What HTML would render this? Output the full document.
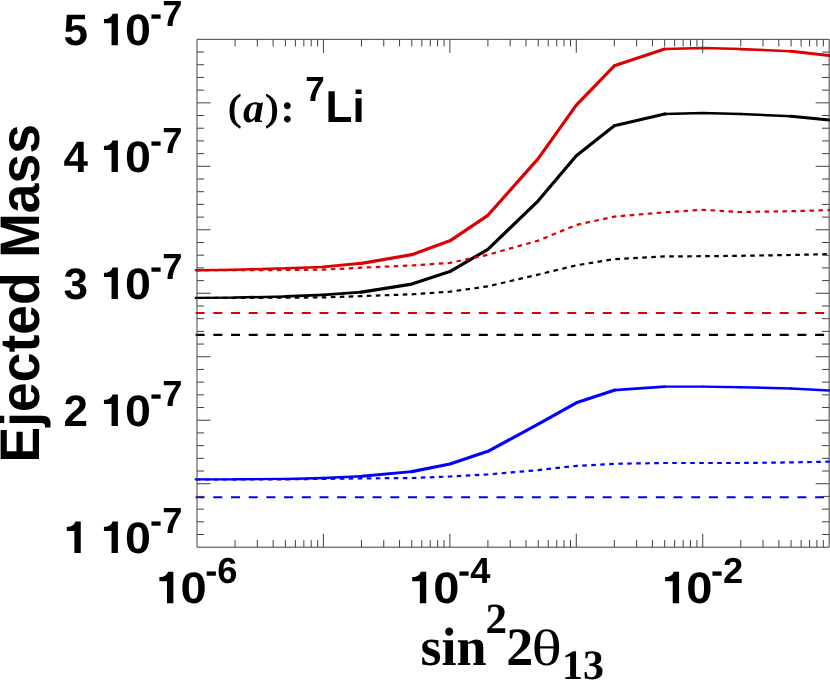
<!DOCTYPE html>
<html><head><meta charset="utf-8"><title>chart</title>
<style>html,body{margin:0;padding:0;background:#fff;overflow:hidden}svg{display:block;position:absolute;left:0;top:0}
svg{will-change:transform}
text{fill:#000;text-rendering:geometricPrecision}
.sb{font-family:"Liberation Sans",sans-serif;font-weight:bold}
.rb{font-family:"Liberation Serif",serif;font-weight:bold}
.rbi{font-family:"Liberation Serif",serif;font-weight:bold;font-style:italic}
.rp{font-family:"Liberation Serif",serif;font-weight:normal;stroke:#000;stroke-width:1.3px;stroke-linejoin:round}
.rr{font-family:"Liberation Serif",serif;font-weight:normal}
</style>
</head><body>
<svg width="830" height="680" viewBox="0 0 830 680">
<rect width="830" height="680" fill="#fff"/>
<g fill="none" stroke="#dc0000" stroke-linecap="round">
<path d="M195.8 270.2L197.0 270.2" stroke-width="2.3"/>
<path d="M197.0 270.2L235.1 269.7" stroke-width="2.4"/>
<path d="M235.1 269.7L285.4 268.2 M285.4 268.2L323.4 266.9 M664.7 49.1L702.7 48.0 M702.7 48.0L740.8 49.1" stroke-width="2.5"/>
<path d="M740.8 49.1L791.1 51.2" stroke-width="2.6"/>
<path d="M323.4 266.9L361.5 263.3" stroke-width="2.9"/>
<path d="M791.1 51.2L829.1 55.6 M829.1 55.6L831.0 55.8" stroke-width="3.0"/>
<path d="M361.5 263.3L411.8 254.7 M411.8 254.7L449.9 240.8 M449.9 240.8L487.9 215.3 M487.9 215.3L538.2 158.6 M538.2 158.6L576.3 105.1 M576.3 105.1L614.3 65.8 M614.3 65.8L664.7 49.1" stroke-width="3.2"/>
</g>
<g fill="none" stroke="#000000" stroke-linecap="round">
<path d="M195.8 297.9L197.0 297.9" stroke-width="2.3"/>
<path d="M197.0 297.9L235.1 297.6" stroke-width="2.4"/>
<path d="M235.1 297.6L285.4 296.4 M664.7 114.0L702.7 113.1 M702.7 113.1L740.8 114.0" stroke-width="2.5"/>
<path d="M285.4 296.4L323.4 294.9 M740.8 114.0L791.1 116.2" stroke-width="2.6"/>
<path d="M323.4 294.9L361.5 292.2" stroke-width="2.8"/>
<path d="M791.1 116.2L829.1 120.1 M829.1 120.1L831.0 120.3" stroke-width="3.0"/>
<path d="M361.5 292.2L411.8 284.1 M411.8 284.1L449.9 271.6 M449.9 271.6L487.9 249.3 M487.9 249.3L538.2 200.8 M538.2 200.8L576.3 155.8 M576.3 155.8L614.3 125.8 M614.3 125.8L664.7 114.0" stroke-width="3.2"/>
</g>
<g fill="none" stroke="#0000ff" stroke-linecap="round">
<path d="M195.8 479.4L197.0 479.4 M197.0 479.4L235.1 479.3 M664.7 386.6L702.7 386.6" stroke-width="2.3"/>
<path d="M235.1 479.3L285.4 478.9 M702.7 386.6L740.8 387.2" stroke-width="2.4"/>
<path d="M285.4 478.9L323.4 478.0 M740.8 387.2L791.1 388.5" stroke-width="2.5"/>
<path d="M323.4 478.0L361.5 476.3 M791.1 388.5L829.1 390.5 M829.1 390.5L831.0 390.6" stroke-width="2.6"/>
<path d="M614.3 390.2L664.7 386.6" stroke-width="2.8"/>
<path d="M361.5 476.3L411.8 471.6" stroke-width="2.9"/>
<path d="M411.8 471.6L449.9 464.0 M449.9 464.0L487.9 451.3 M487.9 451.3L538.2 424.2 M538.2 424.2L576.3 402.8 M576.3 402.8L614.3 390.2" stroke-width="3.2"/>
</g>
<g fill="none" stroke-width="2.2" stroke-linejoin="round">
<path d="M195.8 270.3 L197.0 270.3 L235.1 270.2 L285.4 270.0 L323.4 269.6 L361.5 267.7 L411.8 265.5 L449.9 262.9 L487.9 254.8 L538.2 240.6 L576.3 224.9 L614.3 216.6 L664.7 212.3 L702.7 209.8 L740.8 212.0 L791.1 211.2 L829.1 210.1 L831 210.0" stroke="#dc0000" stroke-dasharray="4.6 4.4"/>
<path d="M195.8 298.0 L197.0 298.0 L235.1 297.9 L285.4 297.7 L323.4 297.4 L361.5 296.1 L411.8 294.3 L449.9 291.7 L487.9 286.3 L538.2 274.6 L576.3 265.3 L614.3 259.1 L664.7 256.4 L702.7 256.2 L740.8 255.8 L791.1 255.0 L829.1 254.1 L831 254.1" stroke="#000000" stroke-dasharray="4.6 4.4"/>
<path d="M195.8 479.5 L197.0 479.5 L235.1 479.5 L285.4 479.3 L323.4 478.9 L361.5 478.4 L411.8 478.0 L449.9 476.5 L487.9 474.4 L538.2 470.1 L576.3 465.9 L614.3 463.8 L664.7 463.0 L702.7 463.0 L740.8 463.0 L791.1 462.4 L829.1 461.7 L831 461.7" stroke="#0000ff" stroke-dasharray="4.6 4.4"/>
</g>
<g fill="none" stroke-width="2.2">
<path d="M195.6 313.00 H831" stroke="#dc0000" stroke-dasharray="9.0 8.7"/>
<path d="M195.6 334.80 H831" stroke="#000000" stroke-dasharray="9.0 8.7"/>
<path d="M195.6 497.25 H831" stroke="#0000ff" stroke-dasharray="9.0 8.7"/>
</g>
<g fill="none" stroke="#404040" stroke-width="1">
<path d="M197.00 39.35 H829.15 V547.20 H197.00 Z"/>
<path d="M235.06 547.20 v-7.1 M235.06 39.35 v7.1 M257.32 547.20 v-7.1 M257.32 39.35 v7.1 M273.12 547.20 v-7.1 M273.12 39.35 v7.1 M285.37 547.20 v-7.1 M285.37 39.35 v7.1 M295.38 547.20 v-7.1 M295.38 39.35 v7.1 M303.85 547.20 v-7.1 M303.85 39.35 v7.1 M311.18 547.20 v-7.1 M311.18 39.35 v7.1 M317.64 547.20 v-7.1 M317.64 39.35 v7.1 M323.43 547.20 v-13.5 M323.43 39.35 v13.5 M361.49 547.20 v-7.1 M361.49 39.35 v7.1 M383.75 547.20 v-7.1 M383.75 39.35 v7.1 M399.55 547.20 v-7.1 M399.55 39.35 v7.1 M411.80 547.20 v-7.1 M411.80 39.35 v7.1 M421.81 547.20 v-7.1 M421.81 39.35 v7.1 M430.28 547.20 v-7.1 M430.28 39.35 v7.1 M437.61 547.20 v-7.1 M437.61 39.35 v7.1 M444.07 547.20 v-7.1 M444.07 39.35 v7.1 M449.86 547.20 v-13.5 M449.86 39.35 v13.5 M487.92 547.20 v-7.1 M487.92 39.35 v7.1 M510.18 547.20 v-7.1 M510.18 39.35 v7.1 M525.98 547.20 v-7.1 M525.98 39.35 v7.1 M538.23 547.20 v-7.1 M538.23 39.35 v7.1 M548.24 547.20 v-7.1 M548.24 39.35 v7.1 M556.71 547.20 v-7.1 M556.71 39.35 v7.1 M564.04 547.20 v-7.1 M564.04 39.35 v7.1 M570.50 547.20 v-7.1 M570.50 39.35 v7.1 M576.29 547.20 v-13.5 M576.29 39.35 v13.5 M614.35 547.20 v-7.1 M614.35 39.35 v7.1 M636.61 547.20 v-7.1 M636.61 39.35 v7.1 M652.41 547.20 v-7.1 M652.41 39.35 v7.1 M664.66 547.20 v-7.1 M664.66 39.35 v7.1 M674.67 547.20 v-7.1 M674.67 39.35 v7.1 M683.14 547.20 v-7.1 M683.14 39.35 v7.1 M690.47 547.20 v-7.1 M690.47 39.35 v7.1 M696.93 547.20 v-7.1 M696.93 39.35 v7.1 M702.72 547.20 v-13.5 M702.72 39.35 v13.5 M740.78 547.20 v-7.1 M740.78 39.35 v7.1 M763.04 547.20 v-7.1 M763.04 39.35 v7.1 M778.84 547.20 v-7.1 M778.84 39.35 v7.1 M791.09 547.20 v-7.1 M791.09 39.35 v7.1 M801.10 547.20 v-7.1 M801.10 39.35 v7.1 M809.57 547.20 v-7.1 M809.57 39.35 v7.1 M816.90 547.20 v-7.1 M816.90 39.35 v7.1 M823.36 547.20 v-7.1 M823.36 39.35 v7.1 M197.00 534.50 h7.1 M829.15 534.50 h-7.1 M197.00 521.81 h7.1 M829.15 521.81 h-7.1 M197.00 509.11 h7.1 M829.15 509.11 h-7.1 M197.00 496.42 h7.1 M829.15 496.42 h-7.1 M197.00 483.72 h13.5 M829.15 483.72 h-13.5 M197.00 471.02 h7.1 M829.15 471.02 h-7.1 M197.00 458.33 h7.1 M829.15 458.33 h-7.1 M197.00 445.63 h7.1 M829.15 445.63 h-7.1 M197.00 432.93 h7.1 M829.15 432.93 h-7.1 M197.00 420.24 h13.5 M829.15 420.24 h-13.5 M197.00 407.54 h7.1 M829.15 407.54 h-7.1 M197.00 394.85 h7.1 M829.15 394.85 h-7.1 M197.00 382.15 h7.1 M829.15 382.15 h-7.1 M197.00 369.45 h7.1 M829.15 369.45 h-7.1 M197.00 356.76 h13.5 M829.15 356.76 h-13.5 M197.00 344.06 h7.1 M829.15 344.06 h-7.1 M197.00 331.36 h7.1 M829.15 331.36 h-7.1 M197.00 318.67 h7.1 M829.15 318.67 h-7.1 M197.00 305.97 h7.1 M829.15 305.97 h-7.1 M197.00 293.28 h13.5 M829.15 293.28 h-13.5 M197.00 280.58 h7.1 M829.15 280.58 h-7.1 M197.00 267.88 h7.1 M829.15 267.88 h-7.1 M197.00 255.19 h7.1 M829.15 255.19 h-7.1 M197.00 242.49 h7.1 M829.15 242.49 h-7.1 M197.00 229.79 h13.5 M829.15 229.79 h-13.5 M197.00 217.10 h7.1 M829.15 217.10 h-7.1 M197.00 204.40 h7.1 M829.15 204.40 h-7.1 M197.00 191.70 h7.1 M829.15 191.70 h-7.1 M197.00 179.01 h7.1 M829.15 179.01 h-7.1 M197.00 166.31 h13.5 M829.15 166.31 h-13.5 M197.00 153.62 h7.1 M829.15 153.62 h-7.1 M197.00 140.92 h7.1 M829.15 140.92 h-7.1 M197.00 128.22 h7.1 M829.15 128.22 h-7.1 M197.00 115.53 h7.1 M829.15 115.53 h-7.1 M197.00 102.83 h13.5 M829.15 102.83 h-13.5 M197.00 90.14 h7.1 M829.15 90.14 h-7.1 M197.00 77.44 h7.1 M829.15 77.44 h-7.1 M197.00 64.74 h7.1 M829.15 64.74 h-7.1 M197.00 52.05 h7.1 M829.15 52.05 h-7.1 "/>
</g>
<g>
<path id="yl1" d="M242 0V500H69V593C150 593 235 620 263 716H386V0Z" transform="translate(63.76 553.00) scale(0.0440 -0.0440)"/>
<path id="yo1" d="M242 0V500H69V593C150 593 235 620 263 716H386V0Z" transform="translate(100.91 553.00) scale(0.0440 -0.0440)"/>
<text id="yt1" class="sb" transform="translate(125.10 553.00) scale(1.060 1.000)" font-size="44">0</text>
<text id="ye1" class="sb" transform="translate(150.10 533.40)" font-size="36.3">-7</text>
<text id="yl2" class="sb" transform="translate(63.50 426.04)" font-size="44">2</text>
<path id="yo2" d="M242 0V500H69V593C150 593 235 620 263 716H386V0Z" transform="translate(100.91 426.04) scale(0.0440 -0.0440)"/>
<text id="yt2" class="sb" transform="translate(125.10 426.04) scale(1.060 1.000)" font-size="44">0</text>
<text id="ye2" class="sb" transform="translate(150.10 406.44)" font-size="36.3">-7</text>
<text id="yl3" class="sb" transform="translate(63.50 299.08)" font-size="44">3</text>
<path id="yo3" d="M242 0V500H69V593C150 593 235 620 263 716H386V0Z" transform="translate(100.91 299.08) scale(0.0440 -0.0440)"/>
<text id="yt3" class="sb" transform="translate(125.10 299.08) scale(1.060 1.000)" font-size="44">0</text>
<text id="ye3" class="sb" transform="translate(150.10 279.48)" font-size="36.3">-7</text>
<text id="yl4" class="sb" transform="translate(63.50 172.11)" font-size="44">4</text>
<path id="yo4" d="M242 0V500H69V593C150 593 235 620 263 716H386V0Z" transform="translate(100.91 172.11) scale(0.0440 -0.0440)"/>
<text id="yt4" class="sb" transform="translate(125.10 172.11) scale(1.060 1.000)" font-size="44">0</text>
<text id="ye4" class="sb" transform="translate(150.10 152.51)" font-size="36.3">-7</text>
<text id="yl5" class="sb" transform="translate(63.50 45.15)" font-size="44">5</text>
<path id="yo5" d="M242 0V500H69V593C150 593 235 620 263 716H386V0Z" transform="translate(100.91 45.15) scale(0.0440 -0.0440)"/>
<text id="yt5" class="sb" transform="translate(125.10 45.15) scale(1.060 1.000)" font-size="44">0</text>
<text id="ye5" class="sb" transform="translate(150.10 25.55)" font-size="36.3">-7</text>
<path id="xo6" d="M242 0V500H69V593C150 593 235 620 263 716H386V0Z" transform="translate(156.36 603.20) scale(0.0440 -0.0440)"/>
<text id="xt6" class="sb" transform="translate(180.50 603.20) scale(1.070 1.000)" font-size="44">0</text>
<text id="xe6" class="sb" transform="translate(205.20 582.60)" font-size="36.3">-6</text>
<path id="xo4" d="M242 0V500H69V593C150 593 235 620 263 716H386V0Z" transform="translate(409.22 603.20) scale(0.0440 -0.0440)"/>
<text id="xt4" class="sb" transform="translate(433.36 603.20) scale(1.070 1.000)" font-size="44">0</text>
<text id="xe4" class="sb" transform="translate(458.06 582.60)" font-size="36.3">-4</text>
<path id="xo2" d="M242 0V500H69V593C150 593 235 620 263 716H386V0Z" transform="translate(662.08 603.20) scale(0.0440 -0.0440)"/>
<text id="xt2" class="sb" transform="translate(686.22 603.20) scale(1.070 1.000)" font-size="44">0</text>
<text id="xe2" class="sb" transform="translate(710.92 582.60)" font-size="36.3">-2</text>
<text id="ytitle" class="sb" transform="translate(38.60 462.40) rotate(-90) scale(1.000 1.045)" font-size="53.4">Ejected Mass</text>
<text id="sin" class="rb" transform="translate(420.40 664.90)" font-size="54">sin</text>
<text id="sup2" class="rb" transform="translate(485.50 632.90)" font-size="43">2</text>
<text id="two" class="rb" transform="translate(506.30 664.90)" font-size="54">2</text>
<text id="theta" class="rr" transform="translate(531.50 664.90) scale(1.240 1.000)" font-size="51">θ</text>
<text id="sub13" class="rb" transform="translate(562.00 678.70)" font-size="42">13</text>
<text id="lp" class="rp" transform="translate(228.40 119.60) scale(1.000 0.970)" font-size="38">(</text>
<text id="la" class="rbi" transform="translate(243.00 122.20)" font-size="42">a</text>
<text id="rp" class="rp" transform="translate(265.40 119.60) scale(1.000 0.970)" font-size="38">)</text>
<text id="colon" class="rb" transform="translate(280.60 122.20)" font-size="42">:</text>
<text id="li7" class="sb" transform="translate(305.20 101.40)" font-size="35">7</text>
<text id="Li" class="sb" transform="translate(325.60 122.00) scale(1.000 1.020)" font-size="44">Li</text>
</g>
</svg>
</body></html>
